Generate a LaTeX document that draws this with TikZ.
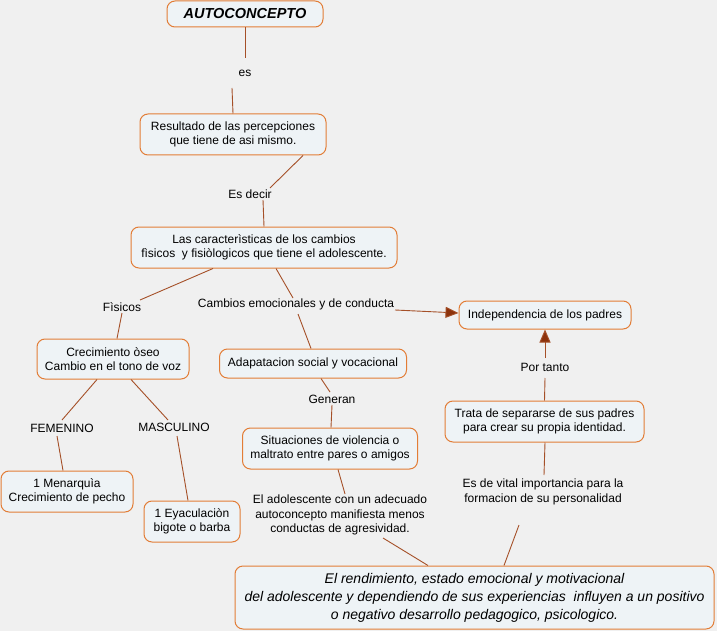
\documentclass[tikz,border=0pt]{standalone}
\usepackage{fontspec}
\setmainfont{Liberation Sans}
\usetikzlibrary{arrows.meta}
\definecolor{boxfill}{RGB}{238,243,246}
\definecolor{boxline}{RGB}{226,125,55}
\definecolor{linkline}{RGB}{165,80,40}
\definecolor{arrowfill}{RGB}{140,50,12}
\definecolor{backfill}{RGB}{240,240,240}

\begin{document}
\begin{tikzpicture}[x=1pt, y=-1pt, font=\fontsize{12}{14.5}\selectfont,
concept/.style={draw=boxline, fill=boxfill, rounded corners=8pt, line width=1pt, align=center, inner sep=2pt},
linkword/.style={inner sep=1pt, align=center},
link/.style={draw=linkline, line width=0.9pt},
arrowlink/.style={link, -{Triangle[length=13pt, width=11pt, fill=arrowfill]}}]

\fill[backfill] (0,0) rectangle (717,631);
\useasboundingbox (0,0) rectangle (717,631);

% concepts
\node[concept, minimum width=156pt, minimum height=26pt, font=\fontsize{14.5}{16}\selectfont\bfseries\itshape] (auto) at (245,14) {AUTOCONCEPTO};
\node[concept, minimum width=186pt, minimum height=41pt] (res) at (233,134.5) {Resultado de las percepciones\\que tiene de asi mismo.};
\node[concept, minimum width=266pt, minimum height=41pt] (carac) at (264,247.5) {Las caracterìsticas de los cambios\\fìsicos\ \ y fisiòlogicos que tiene el adolescente.};
\node[concept, minimum width=152pt, minimum height=40pt] (crec) at (113,359) {Crecimiento òseo\\Cambio en el tono de voz};
\node[concept, minimum width=187pt, minimum height=29pt] (adap) at (313,363.5) {Adapatacion social y vocacional};
\node[concept, minimum width=172pt, minimum height=28pt] (indep) at (545,315) {Independencia de los padres};
\node[concept, minimum width=132pt, minimum height=41pt] (men) at (67,491.5) {1 Menarquìa\\Crecimiento de pecho};
\node[concept, minimum width=96pt, minimum height=41pt] (eya) at (192,521.5) {1 Eyaculaciòn\\bigote o barba};
\node[concept, minimum width=175pt, minimum height=41pt] (sit) at (330,448.5) {Situaciones de violencia o\\maltrato entre pares o amigos};
\node[concept, minimum width=199pt, minimum height=41pt] (trata) at (544.5,421.5) {Trata de separarse de sus padres\\para crear su propia identidad.};
\node[concept, minimum width=479pt, minimum height=63pt, font=\fontsize{14}{18}\selectfont\itshape] (final) at (474.5,597.5) {El rendimiento, estado emocional y motivacional\\del adolescente y dependiendo de sus experiencias\ \ influyen a un positivo\\o negativo desarrollo pedagogico, psicologico.};

% linking words
\node[linkword] (es) at (245,73) {es};
\node[linkword] (esdecir) at (250,194) {Es decir};
\node[linkword] (fis) at (122,307) {Fìsicos};
\node[linkword] (camb) at (296,304) {Cambios emocionales y de conducta};
\node[linkword] (fem) at (62,428) {FEMENINO};
\node[linkword] (masc) at (174,427) {MASCULINO};
\node[linkword] (gen) at (332,399) {Generan};
\node[linkword] (adol) at (340,515) {El adolescente con un adecuado\\autoconcepto manifiesta menos\\conductas de agresividad.};
\node[linkword] (portanto) at (545,367) {Por tanto};
\node[linkword, font=\fontsize{12}{15}\selectfont] (vital) at (543,492) {Es de vital importancia para la\\formacion de su personalidad};

% connectors
\draw[link] (auto.south) -- ([shift={(0,-15)}]es.center);
\draw[link] ([shift={(-13,15)}]es.center) -- (res.north);
\draw[link] ([xshift=70pt]res.south) -- ([shift={(20,-6)}]esdecir.center);
\draw[link] ([shift={(13,6)}]esdecir.center) -- (carac.north);
\draw[link] ([xshift=-51pt]carac.south) -- ([shift={(18,-7)}]fis.center);
\draw[link] ([shift={(0,6)}]fis.center) -- ([xshift=4pt]crec.north);
\draw[link] ([xshift=12pt]carac.south) -- ([shift={(-3,-6)}]camb.center);
\draw[link] ([shift={(2,10)}]camb.center) -- ([xshift=-2pt]adap.north);
\draw[arrowlink] ([shift={(99,6)}]camb.center) -- ([yshift=2pt]indep.west);
\draw[link] ([xshift=-16pt]crec.south) -- ([shift={(0,-8)}]fem.center);
\draw[link] ([shift={(-5,8)}]fem.center) -- ([xshift=-4pt]men.north);
\draw[link] ([xshift=18pt]crec.south) -- ([shift={(-6,-7)}]masc.center);
\draw[link] ([shift={(3,9)}]masc.center) -- ([xshift=-4pt]eya.north);
\draw[link] ([xshift=8pt]adap.south) -- ([shift={(-2,-7)}]gen.center);
\draw[link] ([shift={(0,6)}]gen.center) -- ([xshift=1pt]sit.north);
\draw[link] ([xshift=8pt]sit.south) -- ([shift={(5,-21)}]adol.center);
\draw[link] ([shift={(43,23)}]adol.center) -- ([xshift=-46.5pt]final.north);
\draw[link] ([xshift=0.5pt]trata.south) -- ([shift={(1,-17)}]vital.center);
\draw[link] ([shift={(-24,33)}]vital.center) -- ([xshift=29.5pt]final.north);
\draw[link] (trata.north) -- ([shift={(0,11)}]portanto.center);
\draw[arrowlink] ([shift={(0,-9)}]portanto.center) -- (indep.south);
\end{tikzpicture}
\end{document}
